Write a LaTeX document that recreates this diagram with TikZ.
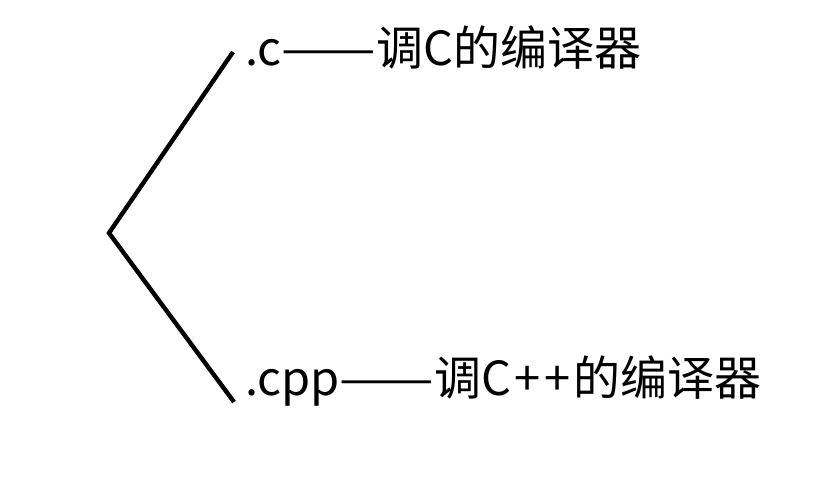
\documentclass[tikz,border=0pt]{standalone}
\usepackage{fontspec}
\newfontfamily\cjk{Noto Sans CJK SC}
\usetikzlibrary{positioning}

%% long dash as printed in the picture
\newcommand{\longdash}{\scalebox{1.2}[1]{——}}

\begin{document}
\begin{tikzpicture}[
    x=1pt, y=-1pt,
    ext/.style    = {anchor=base west, inner sep=0pt,
                     font=\cjk\fontsize{47}{52}\selectfont},
    branch/.style = {line width=4.4pt, line join=miter}
]
\useasboundingbox (0,0) rectangle (834,500);

%% ---- endpoints of the bracket ----
\coordinate (root) at (109,233);
\coordinate (ctop) at (233,52);
\coordinate (cbot) at (234,402);

%% ---- the two suffixes ----
\node[ext] (csrc)   at (245,66)  {.c\longdash 调C的编译器};
\node[ext] (cppsrc) at (245,395) {.cpp\longdash 调C\kern3pt+\kern4pt+\kern3pt的编译器};

%% ---- bracket ----
\draw[branch] (ctop) -- (root) -- (cbot);

\end{tikzpicture}
\end{document}
